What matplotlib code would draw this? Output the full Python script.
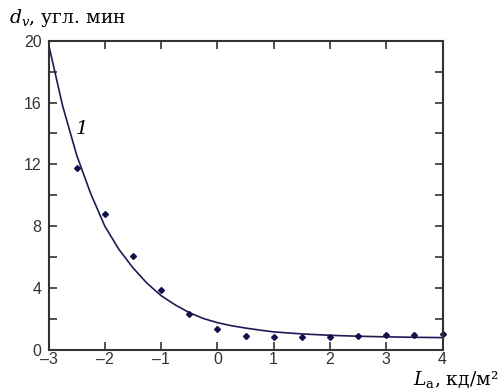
import matplotlib.pyplot as plt
from matplotlib.ticker import MultipleLocator

# measured points
x_pts = [-2.5, -2, -1.5, -1, -0.5, 0, 0.5, 1, 1.5, 2, 2.5, 3, 3.5, 4]
y_pts = [11.75, 8.8, 6.05, 3.85, 2.3, 1.37, 0.9, 0.83, 0.79, 0.81, 0.87, 0.92, 0.98, 1.02]

# fitted curve 1
x_fit = [-3, -2.75, -2.5, -2.25, -2, -1.75, -1.5, -1.25, -1, -0.75, -0.5, -0.25,
         0, 0.25, 0.5, 0.75, 1, 1.5, 2, 2.5, 3, 3.5, 4]
y_fit = [19.8, 15.8, 12.6, 10.1, 8.0, 6.5, 5.3, 4.3, 3.5, 2.9, 2.4, 2.02,
         1.75, 1.55, 1.4, 1.27, 1.15, 1.02, 0.93, 0.87, 0.83, 0.8, 0.78]

x_ticks = [-3, -2, -1, 0, 1, 2, 3, 4]
y_ticks = [0, 4, 8, 12, 16, 20]

plt.rcParams['mathtext.fontset'] = 'dejavuserif'

fig = plt.figure(figsize=(5, 3.92), dpi=100)
ax = fig.add_axes([0.097, 0.108, 0.788, 0.788])

ax.plot(x_fit, y_fit, color='#1c1c55', lw=1.2)
ax.plot(x_pts, y_pts, 'D', color='#10104a', ms=3, clip_on=False)

ax.set_xlim(-3, 4)
ax.set_ylim(0, 20)
ax.set_xticks(x_ticks)
ax.set_xticklabels(['\u2013' + str(-t) if t < 0 else str(t) for t in x_ticks])
ax.set_yticks(y_ticks)
ax.yaxis.set_minor_locator(MultipleLocator(2))
ax.tick_params(which='both', direction='in', length=6, width=1.2, color='#333333',
               top=True, right=True, labelsize=11.5)
ax.tick_params(axis='x', pad=2)
ax.tick_params(axis='y', pad=5)
for lab in ax.get_xticklabels() + ax.get_yticklabels():
    lab.set_family('Liberation Sans')
    lab.set_color('#333333')
for s in ax.spines.values():
    s.set_linewidth(1.5)
    s.set_color('#333333')

ax.text(-2.4, 14.3, '1', fontsize=14, style='italic', family='DejaVu Serif',
        ha='center', va='center')

fig.text(0.018, 0.941, r'$d_v$, угл. мин', fontsize=13.5, family='DejaVu Serif',
         ha='left', va='baseline')
fig.text(0.996, 0.018, r'$L_{\mathrm{a}}$, кд/м²', fontsize=13.5, family='DejaVu Serif',
         ha='right', va='baseline')

fig.savefig('out.png', dpi=100)
